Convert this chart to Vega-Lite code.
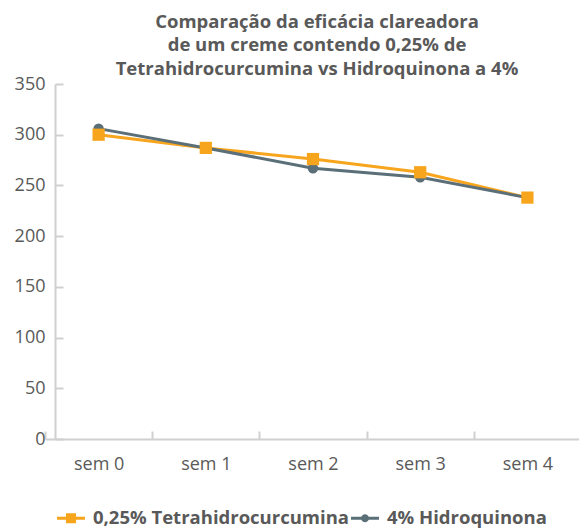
{
  "$schema": "https://vega.github.io/schema/vega-lite/v6.json",
  "width": 524,
  "height": 355,
  "autosize": "none",
  "padding": {"left": 55, "top": 84, "right": 0, "bottom": 91},
  "background": "white",
  "config": {
    "view": {"stroke": null},
    "font": "Open Sans"
  },
  "title": {
    "text": ["Comparação da eficácia clareadora", "de um creme contendo 0,25% de", "Tetrahidrocurcumina vs Hidroquinona a 4%"],
    "font": "Open Sans",
    "fontSize": 18.5,
    "fontWeight": "bold",
    "color": "#595959",
    "lineHeight": 23.5,
    "anchor": "middle",
    "offset": -3
  },
  "data": {
    "values": [
      {"semana": "sem 0", "serie": "0,25% Tetrahidrocurcumina", "valor": 300},
      {"semana": "sem 1", "serie": "0,25% Tetrahidrocurcumina", "valor": 287},
      {"semana": "sem 2", "serie": "0,25% Tetrahidrocurcumina", "valor": 276},
      {"semana": "sem 3", "serie": "0,25% Tetrahidrocurcumina", "valor": 263},
      {"semana": "sem 4", "serie": "0,25% Tetrahidrocurcumina", "valor": 238},
      {"semana": "sem 0", "serie": "4% Hidroquinona", "valor": 306},
      {"semana": "sem 1", "serie": "4% Hidroquinona", "valor": 287},
      {"semana": "sem 2", "serie": "4% Hidroquinona", "valor": 267},
      {"semana": "sem 3", "serie": "4% Hidroquinona", "valor": 258},
      {"semana": "sem 4", "serie": "4% Hidroquinona", "valor": 238}
    ]
  },
  "encoding": {
    "x": {
      "field": "semana", "type": "ordinal",
      "scale": {"type": "band", "paddingInner": 0, "paddingOuter": 0, "range": [-10, 526]},
      "axis": {
        "title": null, "labelAngle": 0, "labelFontSize": 18, "labelColor": "#595959",
        "domain": false, "tickColor": "#d0d0d0", "tickWidth": 2,
        "tickSize": -8, "tickBand": "extent", "labelPadding": 24
      }
    },
    "y": {
      "field": "valor", "type": "quantitative",
      "scale": {"domain": [0, 350], "nice": false},
      "axis": {
        "title": null, "values": [0, 50, 100, 150, 200, 250, 300, 350], "grid": true,
        "gridWidth": 2,
        "gridColor": {"condition": {"test": "datum.value === 0", "value": "#d0d0d0"}, "value": "transparent"},
        "labelFontSize": 18, "labelColor": "#595959",
        "domainColor": "#d0d0d0", "domainWidth": 2, "tickColor": "#d0d0d0", "tickWidth": 2,
        "tickSize": -8, "labelPadding": 18
      }
    },
    "color": {
      "field": "serie", "type": "nominal",
      "scale": {"domain": ["0,25% Tetrahidrocurcumina", "4% Hidroquinona"], "range": ["#F8A51E", "#5B6F79"]}
    }
  },
  "layer": [
    {
      "mark": {"type": "line", "strokeWidth": 3},
      "encoding": {
        "order": {"field": "serie"},
        "color": {
          "field": "serie", "type": "nominal",
          "scale": {"domain": ["0,25% Tetrahidrocurcumina", "4% Hidroquinona"], "range": ["#F8A51E", "#5B6F79"]},
          "sort": ["4% Hidroquinona", "0,25% Tetrahidrocurcumina"],
          "legend": {
            "title": null, "orient": "none", "direction": "horizontal",
            "legendX": 2, "legendY": 420, "labelLimit": 0,
            "labelFontSize": 18.5, "labelFontWeight": "bold", "labelColor": "#595959",
            "symbolSize": 784, "symbolStrokeWidth": 0, "labelOffset": 8, "columnPadding": 2,
            "encode": {
              "symbols": {
                "update": {
                  "shape": {"signal": "datum.value === '4% Hidroquinona' ? 'M-1,-0.1H-0.27L-0.2,-0.2L-0.1,-0.27L0,-0.29L0.1,-0.27L0.2,-0.2L0.27,-0.1H1V0.1H0.27L0.2,0.2L0.1,0.27L0,0.29L-0.1,0.27L-0.2,0.2L-0.27,0.1H-1Z' : 'M-1,-0.1H-0.36V-0.36H0.36V-0.1H1V0.1H0.36V0.36H-0.36V0.1H-1Z'"},
                  "strokeWidth": {"value": 0}
                }
              }
            }
          }
        }
      }
    },
    {
      "transform": [{"filter": "datum.serie === '4% Hidroquinona'"}],
      "mark": {"type": "point", "shape": "circle", "filled": true, "opacity": 1, "size": 110},
      "encoding": {"color": {"field": "serie", "type": "nominal", "legend": null}}
    },
    {
      "transform": [{"filter": "datum.serie === '0,25% Tetrahidrocurcumina'"}],
      "mark": {"type": "point", "shape": "square", "filled": true, "opacity": 1, "size": 150},
      "encoding": {"color": {"field": "serie", "type": "nominal", "legend": null}}
    }
  ]
}
